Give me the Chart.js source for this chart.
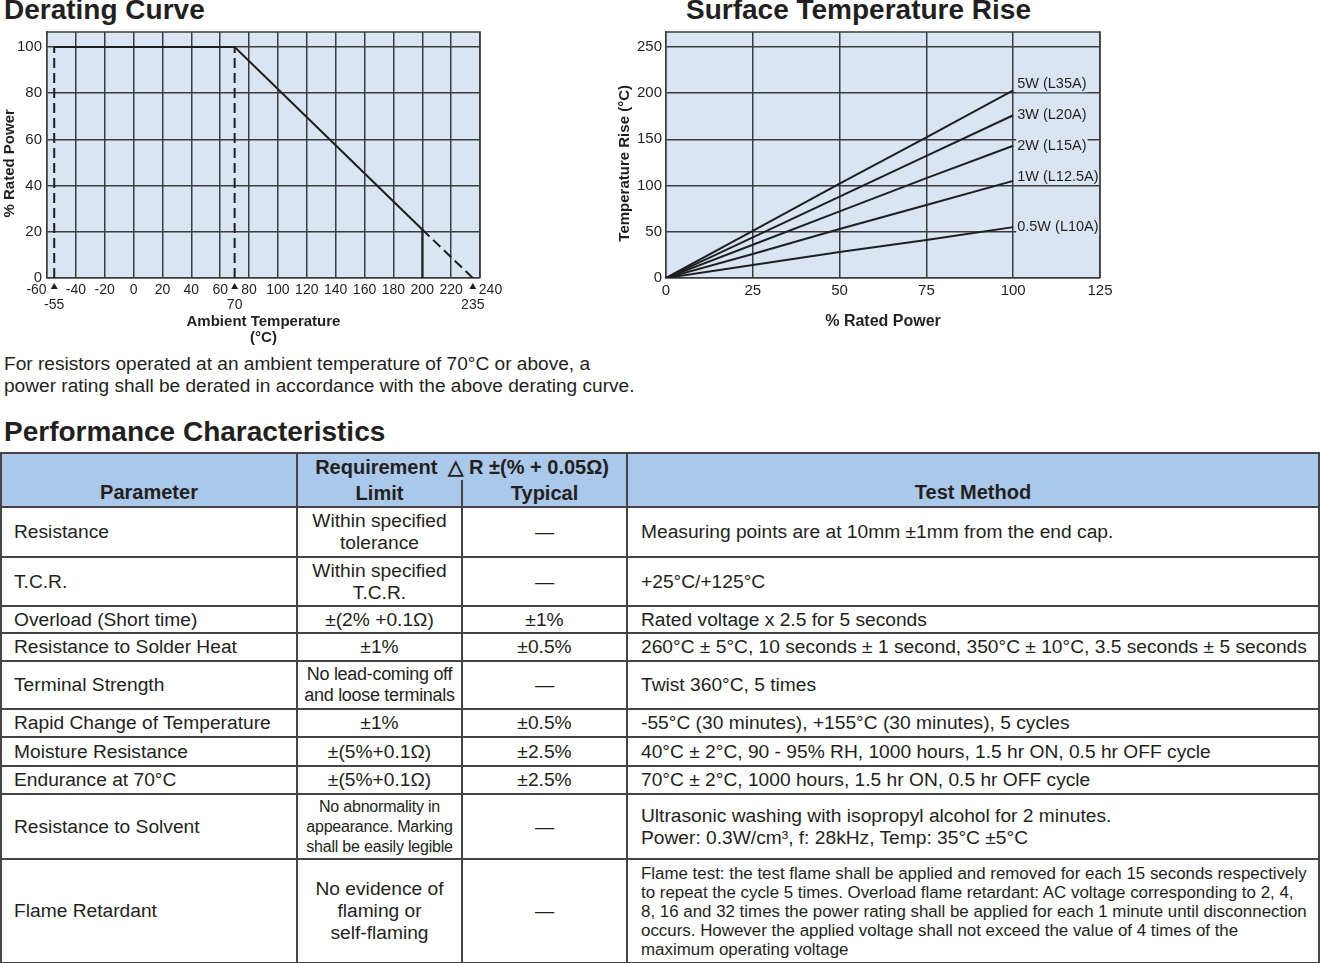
<!DOCTYPE html>
<html>
<head>
<meta charset="utf-8">
<script src="https://cdn.jsdelivr.net/npm/chart.js@4.4.0/dist/chart.umd.min.js"></script>
<style>
  body { margin: 0; background: #fff; font-family: "Liberation Sans", Arial, sans-serif; color: #231f20; }
  #page { position: relative; width: 1320px; height: 963px; overflow: hidden; background: #fff; }
  canvas { position: absolute; }
  .head { position: absolute; font-weight: bold; font-size: 28px; line-height: 28px; white-space: nowrap; }
  #caption { position: absolute; left: 4px; top: 353px; font-size: 19.1px; line-height: 22px; white-space: nowrap; }
  #perf { position: absolute; left: 0; top: 452px; width: 1320px; border-collapse: collapse; table-layout: fixed; font-size: 19.2px; }
  #perf th, #perf td { border: 2px solid #444; padding: 0; line-height: 22px; }
  #perf th { background: #aac8ea; font-size: 20px; font-weight: bold; }
  #perf th.bot { vertical-align: bottom; padding-bottom: 3px; }
  #perf th.req { border-bottom: none; }
  #perf th.lim, #perf th.typ { border-top: none; }
  #perf td.p { padding-left: 12px; }
  #perf td.c { text-align: center; }
  #perf td.m { padding-left: 13px; }
  .tight { font-size: 18px; line-height: 21px; letter-spacing: -0.3px; }
  .tighter { font-size: 16px; line-height: 20px; letter-spacing: -0.2px; }
  .small { font-size: 16.9px; line-height: 19px; }
</style>
</head>
<body>
<div id="page">
  <div class="head" style="left:4px; top:-4px;">Derating Curve</div>
  <div class="head" style="left:686px; top:-4px;">Surface Temperature Rise</div>
  <canvas id="derating" width="520" height="350" style="left:0; top:0;"></canvas>
  <canvas id="rise" width="530" height="350" style="left:600px; top:0;"></canvas>
  <div id="caption">For resistors operated at an ambient temperature of 70°C or above, a<br>power rating shall be derated in accordance with the above derating curve.</div>
  <div class="head" style="left:4px; top:418px;">Performance Characteristics</div>

  <table id="perf">
    <colgroup><col style="width:296px"><col style="width:165px"><col style="width:165px"><col></colgroup>
    <tr style="height:27px">
      <th rowspan="2" class="bot">Parameter</th>
      <th colspan="2" class="req">Requirement &nbsp;△ R ±(% + 0.05Ω)</th>
      <th rowspan="2" class="bot">Test Method</th>
    </tr>
    <tr style="height:27px"><th class="lim">Limit</th><th class="typ">Typical</th></tr>
    <tr style="height:50px"><td class="p">Resistance</td><td class="c">Within specified<br>tolerance</td><td class="c">—</td><td class="m">Measuring points are at 10mm ±1mm from the end cap.</td></tr>
    <tr style="height:49px"><td class="p">T.C.R.</td><td class="c">Within specified<br>T.C.R.</td><td class="c">—</td><td class="m">+25°C/+125°C</td></tr>
    <tr style="height:27px"><td class="p">Overload (Short time)</td><td class="c">±(2% +0.1Ω)</td><td class="c">±1%</td><td class="m">Rated voltage x 2.5 for 5 seconds</td></tr>
    <tr style="height:28px"><td class="p">Resistance to Solder Heat</td><td class="c">±1%</td><td class="c">±0.5%</td><td class="m">260°C ± 5°C, 10 seconds ± 1 second, 350°C ± 10°C, 3.5 seconds ± 5 seconds</td></tr>
    <tr style="height:48px"><td class="p">Terminal Strength</td><td class="c"><div class="tight">No lead-coming off<br>and loose terminals</div></td><td class="c">—</td><td class="m">Twist 360°C, 5 times</td></tr>
    <tr style="height:28px"><td class="p">Rapid Change of Temperature</td><td class="c">±1%</td><td class="c">±0.5%</td><td class="m">-55°C (30 minutes), +155°C (30 minutes), 5 cycles</td></tr>
    <tr style="height:29px"><td class="p">Moisture Resistance</td><td class="c">±(5%+0.1Ω)</td><td class="c">±2.5%</td><td class="m">40°C ± 2°C, 90 - 95% RH, 1000 hours, 1.5 hr ON, 0.5 hr OFF cycle</td></tr>
    <tr style="height:28px"><td class="p">Endurance at 70°C</td><td class="c">±(5%+0.1Ω)</td><td class="c">±2.5%</td><td class="m">70°C ± 2°C, 1000 hours, 1.5 hr ON, 0.5 hr OFF cycle</td></tr>
    <tr style="height:65px"><td class="p">Resistance to Solvent</td><td class="c"><div class="tighter">No abnormality in<br>appearance. Marking<br>shall be easily legible</div></td><td class="c">—</td><td class="m">Ultrasonic washing with isopropyl alcohol for 2 minutes.<br>Power: 0.3W/cm³, f: 28kHz, Temp: 35°C ±5°C</td></tr>
    <tr style="height:104px"><td class="p">Flame Retardant</td><td class="c">No evidence of<br>flaming or<br>self-flaming</td><td class="c">—</td><td class="m"><div class="small">Flame test: the test flame shall be applied and removed for each 15 seconds respectively<br>to repeat the cycle 5 times. Overload flame retardant: AC voltage corresponding to 2, 4,<br>8, 16 and 32 times the power rating shall be applied for each 1 minute until disconnection<br>occurs. However the applied voltage shall not exceed the value of 4 times of the<br>maximum operating voltage</div></td></tr>
  </table>
</div>

<script>
// DERATING CURVE DATA
const deratingTemp = [-55, 70, 200, 200];
const deratingPower = [100, 100, 21, 0];
const minTempTemp = [-55, -55];
const minTempPower = [0, 100];
const ratedTempTemp = [70, 70];
const ratedTempPower = [0, 100];
const extrapTemp = [200, 235];
const extrapPower = [21, 0];
const markTemps = [-55, 70, 235];
const powerTicks = [0, 20, 40, 60, 80, 100];

// SURFACE TEMPERATURE RISE DATA
const ratedPower = [0, 25, 50, 75, 100];
const rise5W = [0, 51, 102, 152, 203];
const rise3W = [0, 44, 88, 132, 176];
const rise2W = [0, 36, 72, 108, 143];
const rise1W = [0, 26, 53, 79, 105];
const rise05W = [0, 14, 28, 41, 55];
const riseNames = ["5W (L35A)", "3W (L20A)", "2W (L15A)", "1W (L12.5A)", "0.5W (L10A)"];
const riseTicks = [0, 50, 100, 150, 200, 250];
const tagNudge = [-6, 0, 0, -4, 0];

const ink = "#1f1f1f";
const gridInk = "#3c3c3c";
const plotFill = "#d9e5f3";
const fontFamily = '"Liberation Sans", Arial, sans-serif';

Chart.defaults.font.family = fontFamily;
Chart.defaults.color = "#231f20";

function toPoints(xs, ys) {
  return xs.map((x, i) => ({ x: x, y: ys[i] }));
}

const plotBg = {
  id: "plotBg",
  beforeDraw(chart) {
    const { ctx, chartArea: a } = chart;
    ctx.save();
    ctx.fillStyle = plotFill;
    ctx.fillRect(a.left, a.top, a.width, a.height);
    ctx.restore();
  },
  afterDraw(chart) {
    // close the frame along the top
    const { ctx, chartArea: a } = chart;
    ctx.save();
    ctx.strokeStyle = gridInk;
    ctx.lineWidth = 1.5;
    ctx.beginPath();
    ctx.moveTo(a.left, a.top);
    ctx.lineTo(a.right, a.top);
    ctx.lineTo(a.right, a.bottom);
    ctx.stroke();
    ctx.restore();
  }
};

// triangles + second row labels under the temperature axis
const tempMarks = {
  id: "tempMarks",
  afterDraw(chart) {
    const x = chart.scales.x;
    const ctx = chart.ctx;
    const base = chart.chartArea.bottom;
    ctx.save();
    ctx.fillStyle = "#231f20";
    ctx.font = "14px " + fontFamily;
    ctx.textAlign = "center";
    ctx.textBaseline = "middle";
    markTemps.forEach(t => {
      const px = x.getPixelForValue(t);
      ctx.beginPath();
      ctx.moveTo(px, base + 5);
      ctx.lineTo(px + 3.5, base + 11);
      ctx.lineTo(px - 3.5, base + 11);
      ctx.closePath();
      ctx.fill();
      ctx.fillText(String(t), px, base + 27);
    });
    ctx.restore();
  }
};

// series names at the end of each line
const seriesTags = {
  id: "seriesTags",
  afterDatasetsDraw(chart) {
    const ctx = chart.ctx;
    ctx.save();
    ctx.font = "14.5px " + fontFamily;
    ctx.textBaseline = "middle";
    chart.data.datasets.forEach((ds, i) => {
      const meta = chart.getDatasetMeta(i);
      const pt = meta.data[meta.data.length - 1];
      const tx = pt.x + 4;
      const ty = pt.y + tagNudge[i];
      const w = ctx.measureText(ds.label).width;
      ctx.fillStyle = plotFill;
      ctx.fillRect(tx - 1, ty - 8, w + 2, 16);
      ctx.fillStyle = "#231f20";
      ctx.fillText(ds.label, tx, ty);
    });
    ctx.restore();
  }
};

const solid = { borderColor: ink, borderWidth: 2, fill: false };
const dashed = { borderColor: ink, borderWidth: 2, borderDash: [10, 5], fill: false };

new Chart(document.getElementById("derating"), {
  type: "line",
  data: {
    datasets: [
      Object.assign({ data: toPoints(deratingTemp, deratingPower) }, solid),
      Object.assign({ data: toPoints(minTempTemp, minTempPower) }, dashed),
      Object.assign({ data: toPoints(ratedTempTemp, ratedTempPower) }, dashed),
      Object.assign({ data: toPoints(extrapTemp, extrapPower) }, dashed)
    ]
  },
  options: {
    responsive: false,
    animation: false,
    layout: { padding: { top: 32, right: 40, left: 0, bottom: 0 } },
    elements: { point: { radius: 0 }, line: { tension: 0 } },
    plugins: { legend: { display: false }, tooltip: { enabled: false } },
    scales: {
      x: {
        type: "linear",
        min: -60,
        max: 240,
        afterFit(s) { s.height = 72; },
        grid: { color: gridInk, lineWidth: 1.5, drawTicks: false },
        border: { color: gridInk, width: 1.5 },
        ticks: {
          stepSize: 20,
          autoSkip: false,
          maxRotation: 0,
          minRotation: 0,
          padding: 4,
          font: { size: 14 },
          callback: v => v === -60 ? "-60\u2002\u2002\u2002" : v === 240 ? "\u2002\u2002\u2002240" : v
        },
        title: {
          display: true,
          text: ["Ambient Temperature", "(°C)"],
          font: { size: 15, weight: "bold", lineHeight: 1.07 },
          padding: { top: 0, bottom: 4 }
        }
      },
      y: {
        min: 0,
        max: 106.5,
        afterFit(s) { s.width = 47; },
        afterBuildTicks(s) { s.ticks = powerTicks.map(v => ({ value: v })); },
        grid: { color: gridInk, lineWidth: 1.5, drawTicks: false },
        border: { color: gridInk, width: 1.5 },
        ticks: { padding: 5, font: { size: 15 } },
        title: {
          display: true,
          text: "% Rated Power    ",
          font: { size: 15, weight: "bold" },
          padding: { top: 1, bottom: 0 }
        }
      }
    }
  },
  plugins: [plotBg, tempMarks]
});

const riseSeries = [rise5W, rise3W, rise2W, rise1W, rise05W];

new Chart(document.getElementById("rise"), {
  type: "line",
  data: {
    datasets: riseSeries.map((vals, i) => Object.assign({ label: riseNames[i], data: toPoints(ratedPower, vals) }, solid))
  },
  options: {
    responsive: false,
    animation: false,
    layout: { padding: { top: 32, right: 30, left: 0, bottom: 0 } },
    elements: { point: { radius: 0 }, line: { tension: 0 } },
    plugins: { legend: { display: false }, tooltip: { enabled: false } },
    scales: {
      x: {
        type: "linear",
        min: 0,
        max: 125,
        afterFit(s) { s.height = 72; },
        grid: { color: gridInk, lineWidth: 1.5, drawTicks: false },
        border: { color: gridInk, width: 1.5 },
        ticks: { stepSize: 25, maxRotation: 0, padding: 4, font: { size: 15 } },
        title: {
          display: true,
          text: "% Rated Power",
          font: { size: 16, weight: "bold" },
          padding: { top: 0, bottom: 19 }
        }
      },
      y: {
        min: 0,
        max: 266,
        afterFit(s) { s.width = 66; },
        afterBuildTicks(s) { s.ticks = riseTicks.map(v => ({ value: v })); },
        grid: { color: gridInk, lineWidth: 1.5, drawTicks: false },
        border: { color: gridInk, width: 1.5 },
        ticks: { padding: 4, font: { size: 15 } },
        title: {
          display: true,
          text: "Temperature Rise (°C)    ",
          font: { size: 15, weight: "bold" },
          padding: { top: 16, bottom: 0 }
        }
      }
    }
  },
  plugins: [plotBg, seriesTags]
});
</script>
</body>
</html>
